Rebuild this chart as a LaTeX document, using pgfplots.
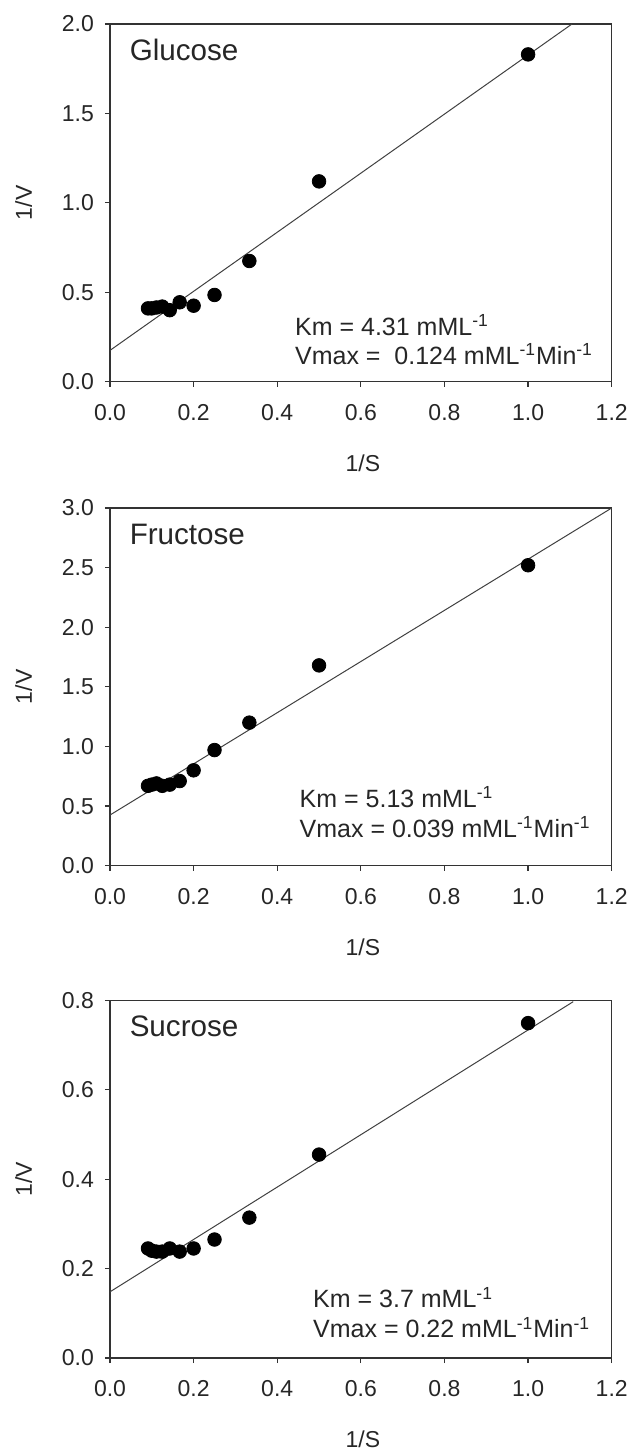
\documentclass[border=0pt]{standalone}
\usepackage{fontspec}
\setmainfont{Liberation Sans}
\usepackage{pgfplots}
\pgfplotsset{compat=1.18}

\pgfplotsset{
  kin/.style={
    scale only axis, width=250.85pt, height=178.85pt,
    xmin=0, xmax=1.2, xtick={0,0.2,...,1.2},
    axis line style={line width=0.6pt, black!80},
    tick style={line width=0.6pt, black!80},
    xtick pos=left, ytick pos=left, tick align=outside,
    major tick length=2.5pt,
    /pgf/number format/assume math mode=true,
    /pgf/number format/fixed, /pgf/number format/fixed zerofill,
    /pgf/number format/precision=1,
    ticklabel style={font=\fontsize{11.5}{13}\selectfont, text=black!85},
    xticklabel style={yshift=-5.3pt},
    yticklabel style={xshift=-2pt},
    xlabel={1/S}, ylabel={1/V},
    label style={font=\fontsize{11.5}{13}\selectfont, text=black!85},
    xlabel style={at={(axis description cs:0.504,-0.227)}, anchor=center},
    ylabel style={at={(axis description cs:-0.172,0.5)}, anchor=center},
    clip=false,
  },
  pts/.style={only marks, mark=*, mark size=3.4pt, black, mark options={fill=black}},
  fit/.style={no marks, line width=0.5pt, black!75},
}
\tikzset{
  ttl/.style={anchor=base west, font=\fontsize{14.8}{17}\selectfont, text=black!85},
  ann/.style={anchor=base west, font=\fontsize{12.5}{14}\selectfont, text=black!85},
}

\begin{document}
\begin{tikzpicture}
\useasboundingbox (-55pt,-534.65pt) rectangle (260.5pt,190.85pt);

% Glucose
\begin{axis}[kin, at={(0pt,0pt)}, anchor=south west,
  ymin=0, ymax=2, ytick={0,0.5,...,2}]
\addplot[fit] coordinates {(0,0.175) (1.105,2.0)};
\addplot[pts] coordinates {
  (1,1.83) (0.5,1.12) (0.3333,0.675) (0.25,0.485) (0.2,0.425)
  (0.1667,0.444) (0.1429,0.40) (0.125,0.42) (0.1111,0.415) (0.1,0.41) (0.0909,0.41)};
\node[ttl] at (axis description cs:0.0253,0.899) {Glucose};
\node[ann] at (axis description cs:0.355,0.1305) {Km = 4.31 mML\textsuperscript{-1}};
\node[ann] at (axis description cs:0.355,0.0486) {Vmax = \ 0.124 mML\textsuperscript{-1}Min\textsuperscript{-1}};
\end{axis}

% Fructose
\begin{axis}[kin, at={(0pt,-242pt)}, anchor=south west,
  ymin=0, ymax=3, ytick={0,0.5,...,3}]
\addplot[fit] coordinates {(0,0.425) (1.2,3.0)};
\addplot[pts] coordinates {
  (1,2.52) (0.5,1.68) (0.3333,1.20) (0.25,0.97) (0.2,0.80)
  (0.1667,0.71) (0.1429,0.68) (0.125,0.67) (0.1111,0.69) (0.1,0.68) (0.0909,0.67)};
\node[ttl] at (axis description cs:0.0253,0.899) {Fructose};
\node[ann] at (axis description cs:0.364,0.163) {Km = 5.13 mML\textsuperscript{-1}};
\node[ann] at (axis description cs:0.364,0.079) {Vmax = 0.039 mML\textsuperscript{-1}Min\textsuperscript{-1}};
\end{axis}

% Sucrose
\begin{axis}[kin, at={(0pt,-488.15pt)}, anchor=south west,
  ymin=0, ymax=0.8, ytick={0,0.2,...,0.8}]
\addplot[fit] coordinates {(0,0.148) (1.108,0.797)};
\addplot[pts] coordinates {
  (1,0.749) (0.5,0.455) (0.3333,0.314) (0.25,0.265) (0.2,0.245)
  (0.1667,0.238) (0.1429,0.245) (0.125,0.238) (0.1111,0.238) (0.1,0.24) (0.0909,0.245)};
\node[ttl] at (axis description cs:0.0253,0.899) {Sucrose};
\node[ann] at (axis description cs:0.391,0.14) {Km = 3.7 mML\textsuperscript{-1}};
\node[ann] at (axis description cs:0.391,0.056) {Vmax = 0.22 mML\textsuperscript{-1}Min\textsuperscript{-1}};
\end{axis}
\end{tikzpicture}
\end{document}
